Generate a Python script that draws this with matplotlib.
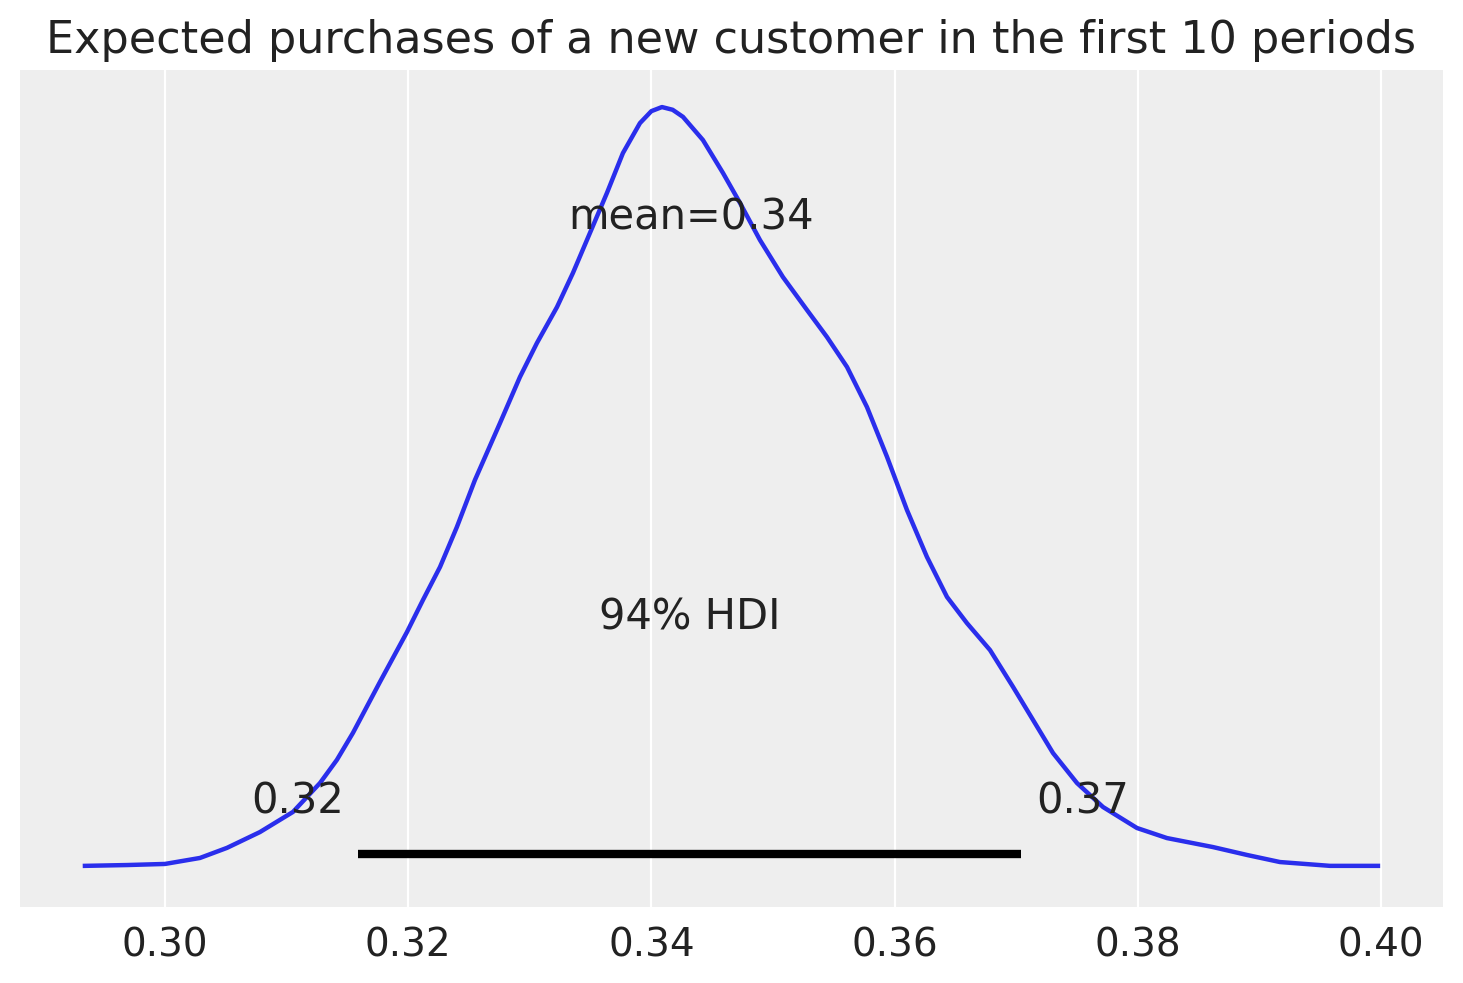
import matplotlib
matplotlib.use("Agg")
import matplotlib.pyplot as plt

# Posterior density (KDE)
x_vals = [0.29342, 0.29688, 0.30000, 0.30288, 0.30510, 0.30781, 0.31053, 0.31275,
          0.31414, 0.31546, 0.31768, 0.31990, 0.32122, 0.32262, 0.32401, 0.32549,
          0.32755, 0.32919, 0.33059, 0.33224, 0.33355, 0.33495, 0.33635,
          0.33766, 0.33906, 0.34000, 0.34087, 0.34175, 0.34260, 0.34424, 0.34589,
          0.34729, 0.34893, 0.35082, 0.35280, 0.35444, 0.35609, 0.35773, 0.35938,
          0.36102, 0.36266, 0.36431, 0.36595, 0.36785, 0.36974, 0.37138, 0.37303,
          0.37500, 0.37714, 0.37993, 0.38240, 0.38618, 0.38898, 0.39169, 0.39581,
          0.39975]
density = [0.15, 0.18, 0.22, 0.44, 0.81, 1.39, 2.13, 3.19,
           4.04, 5.03, 6.90, 8.73, 9.91, 11.12, 12.59, 14.31,
           16.40, 18.09, 19.34, 20.66, 21.91, 23.38, 24.85,
           26.31, 27.41, 27.85, 28.00, 27.90, 27.64, 26.79, 25.58,
           24.48, 23.12, 21.76, 20.55, 19.56, 18.46, 16.99, 15.16,
           13.21, 11.49, 10.02, 9.06, 8.07, 6.72, 5.51, 4.29,
           3.19, 2.31, 1.54, 1.17, 0.84, 0.55, 0.29, 0.15,
           0.15]

hdi_low, hdi_high = 0.31587, 0.37039
mean_val = 0.3433
hdi_prob = 0.94
title = "Expected purchases of a new customer in the first 10 periods"
xticks = [0.30, 0.32, 0.34, 0.36, 0.38, 0.40]
plot_height = 29.36

plt.rcParams['font.family'] = ['DejaVu Sans']
fig = plt.figure(figsize=(7.315, 4.915), dpi=200)
ax = fig.add_axes([20/1463, 1-907/983, 1423/1463, 837/983])
ax.set_facecolor('#eeeeee')
for s in ax.spines.values():
    s.set_visible(False)

ax.plot(x_vals, density, color='#2a2eec', lw=1.6, solid_joinstyle='round')
ax.plot([hdi_low, hdi_high], [plot_height*0.02]*2, color='k', lw=3, solid_capstyle='butt')

ax.set_xlim(0.28808, 0.40510)
ax.set_ylim(-1.36, plot_height)
ax.set_xticks(xticks)
ax.set_xticklabels([f"{t:.2f}" for t in xticks])
ax.set_yticks([])
ax.tick_params(axis='x', length=0, labelsize=14, pad=7, labelcolor='#222222')
ax.grid(axis='x', color='white', lw=0.8)
ax.set_axisbelow(True)

tc = '#222222'
fs = 15
ax.text(mean_val, plot_height*0.8, f"mean={mean_val:.2f}", ha='center', fontsize=fs, color=tc)
ax.text((hdi_low+hdi_high)/2, plot_height*0.3, f"{hdi_prob:.0%} HDI", ha='center', fontsize=fs, color=tc)
ax.annotate(f"{hdi_low:.2f}", (hdi_low, plot_height*0.07), xytext=(-5, 0), textcoords='offset points',
            ha='right', fontsize=fs, color=tc)
ax.annotate(f"{hdi_high:.2f}", (hdi_high, plot_height*0.07), xytext=(5.5, 0), textcoords='offset points',
            ha='left', fontsize=fs, color=tc)

fig.text(0.5, 1-40/983, title, ha='center', va='center', fontsize=16, color=tc)

fig.savefig("out.png", dpi=200)
